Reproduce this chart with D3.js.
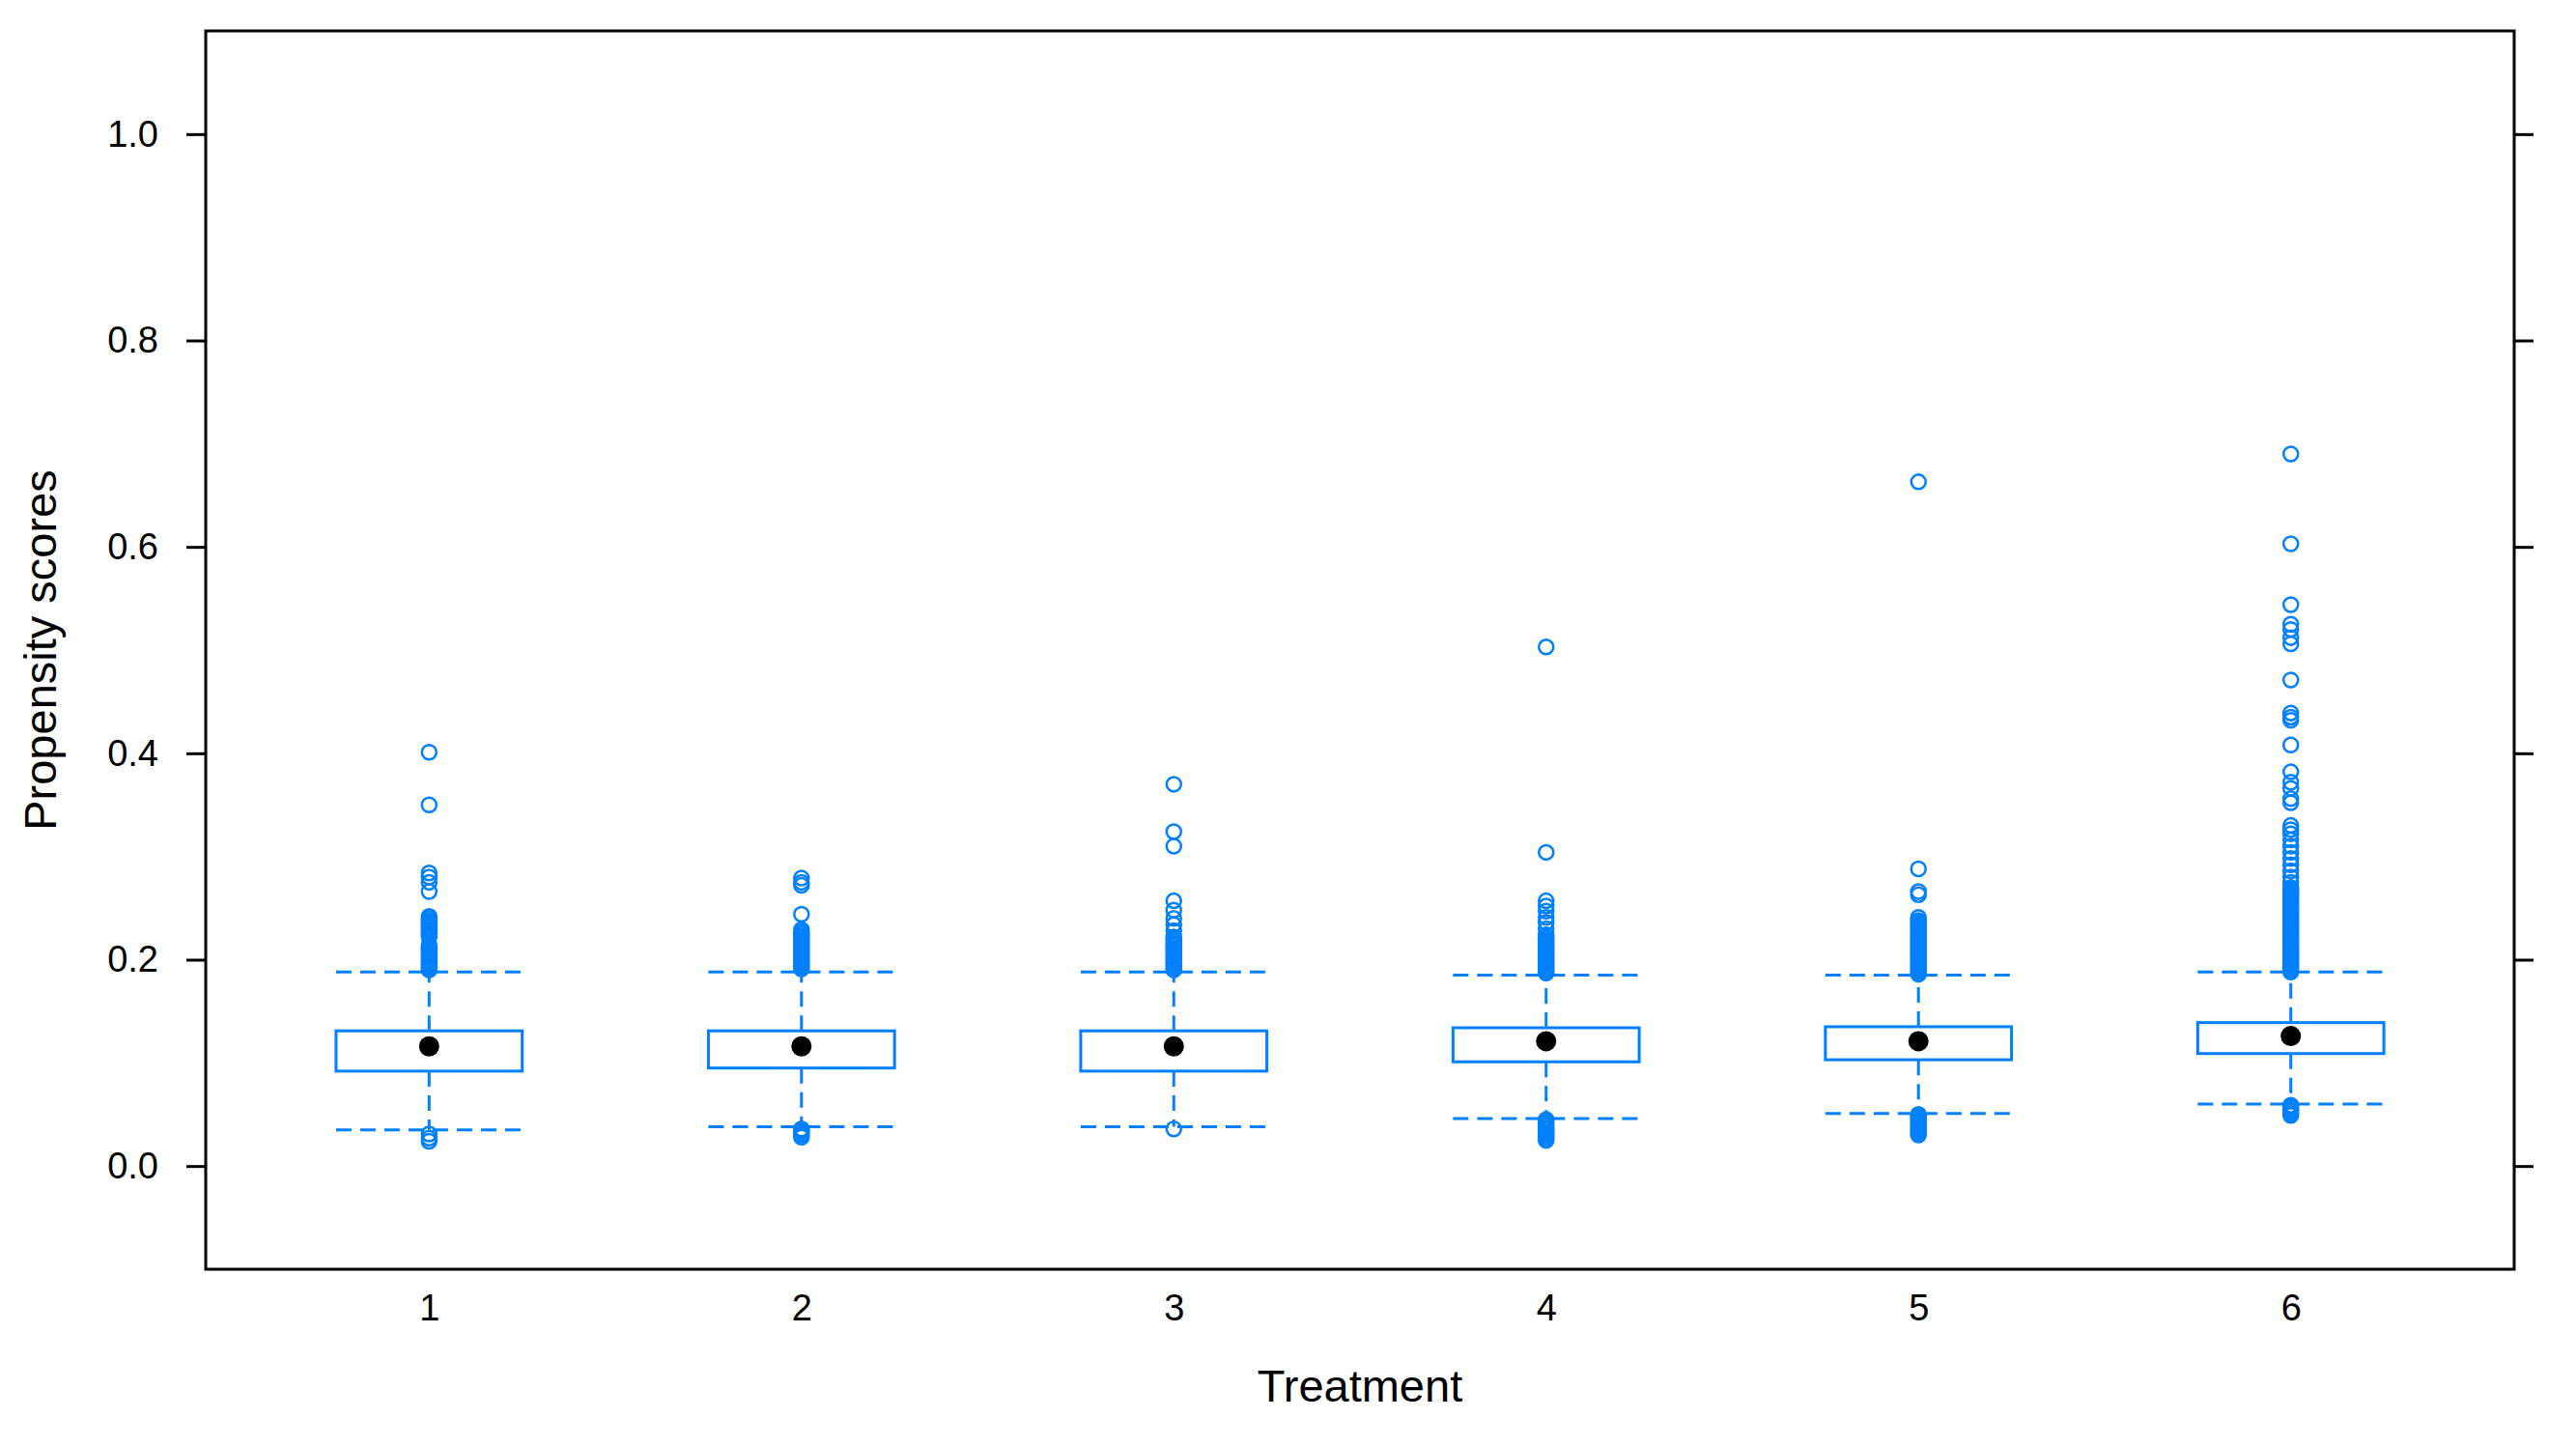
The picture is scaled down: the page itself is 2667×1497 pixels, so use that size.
<!DOCTYPE html>
<html>
<head>
<meta charset="utf-8">
<script src="https://cdn.jsdelivr.net/npm/d3@7"></script>
<style>
  body { margin: 0; background: #fff; }
  text { font-family: "Liberation Sans", Arial, sans-serif; fill: #000; }
</style>
</head>
<body>
<div class="container"></div>
<script>
const treatments = ["1", "2", "3", "4", "5", "6"]
const yTicks = [0.0, 0.2, 0.4, 0.6, 0.8, 1.0]

const lowerWhisker = [0.035, 0.038, 0.038, 0.046, 0.051, 0.060]
const q1 = [0.092, 0.095, 0.092, 0.101, 0.103, 0.109]
const median = [0.116, 0.116, 0.116, 0.121, 0.121, 0.126]
const q3 = [0.131, 0.131, 0.131, 0.134, 0.135, 0.139]
const upperWhisker = [0.188, 0.188, 0.188, 0.185, 0.185, 0.188]

const outliers1 = [0.401, 0.350, 0.284, 0.280, 0.275, 0.266,
  0.242, 0.240, 0.238, 0.236, 0.234, 0.232, 0.230, 0.228, 0.226, 0.224, 0.222,
  0.214, 0.212, 0.210, 0.208, 0.206, 0.204, 0.202, 0.200, 0.198, 0.196, 0.194, 0.192, 0.190,
  0.031, 0.027, 0.024]
const outliers2 = [0.279, 0.275, 0.272, 0.244,
  0.229, 0.227, 0.225, 0.223, 0.221, 0.219, 0.217, 0.215, 0.213, 0.211, 0.209, 0.207, 0.205,
  0.203, 0.201, 0.199, 0.197, 0.195, 0.193, 0.191,
  0.036, 0.034, 0.032, 0.030, 0.028]
const outliers3 = [0.370, 0.324, 0.310, 0.257, 0.248, 0.240, 0.234, 0.228,
  0.222, 0.220, 0.218, 0.216, 0.214, 0.212, 0.210, 0.208, 0.206, 0.204, 0.202, 0.200,
  0.198, 0.196, 0.194, 0.192, 0.190,
  0.036]
const outliers4 = [0.503, 0.304, 0.257, 0.252, 0.247, 0.241, 0.236, 0.230, 0.224,
  0.221, 0.219, 0.217, 0.215, 0.213, 0.211, 0.209, 0.207, 0.205, 0.203, 0.201, 0.199,
  0.197, 0.195, 0.193, 0.191, 0.189, 0.187,
  0.045, 0.043, 0.041, 0.039, 0.037, 0.035, 0.033, 0.031, 0.029, 0.027, 0.025]
const outliers5 = [0.663, 0.288, 0.266, 0.263, 0.241, 0.238,
  0.236, 0.234, 0.232, 0.230, 0.228, 0.226, 0.224, 0.222, 0.220, 0.218, 0.216, 0.214,
  0.212, 0.210, 0.208, 0.206, 0.204, 0.202, 0.200, 0.198, 0.196, 0.194, 0.192, 0.190, 0.188, 0.186,
  0.050, 0.048, 0.046, 0.044, 0.042, 0.040, 0.038, 0.036, 0.034, 0.032, 0.030]
const outliers6 = [0.690, 0.603, 0.544, 0.525, 0.520, 0.512, 0.506, 0.471, 0.439, 0.435, 0.432, 0.408,
  0.382, 0.372, 0.366, 0.356, 0.352, 0.330, 0.326, 0.322, 0.316, 0.310, 0.304, 0.298, 0.292,
  0.286, 0.280, 0.275, 0.270,
  0.268, 0.266, 0.264, 0.262, 0.260, 0.258, 0.256, 0.254, 0.252, 0.250, 0.248, 0.246, 0.244,
  0.242, 0.240, 0.238, 0.236, 0.234, 0.232, 0.230, 0.228, 0.226, 0.224, 0.222, 0.220, 0.218,
  0.216, 0.214, 0.212, 0.210, 0.208, 0.206, 0.204, 0.202, 0.200, 0.198, 0.196, 0.194, 0.192,
  0.190, 0.188,
  0.059, 0.057, 0.055, 0.053, 0.051, 0.049]
const outliers = [outliers1, outliers2, outliers3, outliers4, outliers5, outliers6]

const width = 2667
const height = 1497
const frameLeft = 213, frameRight = 2603, frameTop = 32, frameBottom = 1314
const blue = "#0080ff"

const boxes = treatments.map((t, i) => ({
  t, pos: i + 1,
  lo: lowerWhisker[i], q1: q1[i], med: median[i], q3: q3[i], hi: upperWhisker[i]
}))
const points = outliers.flatMap((arr, i) => arr.map(v => ({ pos: i + 1, v })))

const xScale = d3.scaleLinear().domain([0.4, 6.6]).range([frameLeft, frameRight])
const yScale = d3.scaleLinear().domain([-0.1, 1.1]).range([frameBottom, frameTop])
const halfBox = xScale(1.25) - xScale(1)

const svg = d3.select(".container")
  .append("svg")
    .attr("width", width)
    .attr("height", height)

// axes: labels on left, ticks only on right, labels below
const yAxis = d3.axisLeft(yScale).tickValues(yTicks).tickFormat(d3.format(".1f")).tickSize(20).tickPadding(29)
svg.append("g")
  .attr("transform", `translate(${frameLeft}, 0)`)
  .call(yAxis)
  .call(g => g.select(".domain").remove())
  .call(g => g.selectAll("line").attr("stroke", "#000").attr("stroke-width", 3))
  .call(g => g.selectAll("text").style("font-size", "38px").attr("fill", "#000"))

svg.append("g")
  .attr("transform", `translate(${frameRight}, 0)`)
  .call(d3.axisRight(yScale).tickValues(yTicks).tickFormat("").tickSize(20))
  .call(g => g.select(".domain").remove())
  .call(g => g.selectAll("line").attr("stroke", "#000").attr("stroke-width", 3))

svg.append("g")
  .attr("transform", `translate(0, ${frameBottom})`)
  .call(d3.axisBottom(xScale).tickValues(boxes.map(d => d.pos)).tickFormat((d, i) => treatments[i]).tickSize(0).tickPadding(26))
  .call(g => g.select(".domain").remove())
  .call(g => g.selectAll("text").style("font-size", "38px").attr("fill", "#000"))

const plot = svg.append("g")

// whiskers
plot.selectAll(".whisker")
  .data(boxes.flatMap(d => [[d, d.q3, d.hi], [d, d.q1, d.lo]]))
  .enter()
  .append("line")
  .attr("x1", d => xScale(d[0].pos))
  .attr("x2", d => xScale(d[0].pos))
  .attr("y1", d => yScale(d[1]))
  .attr("y2", d => yScale(d[2]))
  .attr("stroke", blue)
  .attr("stroke-width", 3)
  .attr("stroke-dasharray", "16,9")

plot.selectAll(".cap")
  .data(boxes.flatMap(d => [[d, d.hi], [d, d.lo]]))
  .enter()
  .append("line")
  .attr("x1", d => xScale(d[0].pos) - halfBox)
  .attr("x2", d => xScale(d[0].pos) + halfBox)
  .attr("y1", d => yScale(d[1]))
  .attr("y2", d => yScale(d[1]))
  .attr("stroke", blue)
  .attr("stroke-width", 3)
  .attr("stroke-dasharray", "16,9")

plot.selectAll(".box")
  .data(boxes)
  .enter()
  .append("rect")
  .attr("x", d => xScale(d.pos) - halfBox)
  .attr("width", halfBox * 2)
  .attr("y", d => yScale(d.q3))
  .attr("height", d => yScale(d.q1) - yScale(d.q3))
  .attr("fill", "none")
  .attr("stroke", blue)
  .attr("stroke-width", 3)

plot.selectAll(".outlier")
  .data(points)
  .enter()
  .append("circle")
  .attr("cx", d => xScale(d.pos))
  .attr("cy", d => yScale(d.v))
  .attr("r", 7.5)
  .attr("fill", "none")
  .attr("stroke", blue)
  .attr("stroke-width", 2.5)

plot.selectAll(".median")
  .data(boxes)
  .enter()
  .append("circle")
  .attr("cx", d => xScale(d.pos))
  .attr("cy", d => yScale(d.med))
  .attr("r", 10.5)
  .attr("fill", "#000")

// frame
svg.append("rect")
  .attr("x", frameLeft)
  .attr("y", frameTop)
  .attr("width", frameRight - frameLeft)
  .attr("height", frameBottom - frameTop)
  .attr("fill", "none")
  .attr("stroke", "#000")
  .attr("stroke-width", 3)

svg.append("text")
  .attr("x", (frameLeft + frameRight) / 2)
  .attr("y", 1451)
  .attr("text-anchor", "middle")
  .style("font-size", "47px")
  .text("Treatment")

svg.append("text")
  .attr("transform", `translate(58, ${(frameTop + frameBottom) / 2}) rotate(-90)`)
  .attr("text-anchor", "middle")
  .style("font-size", "47px")
  .text("Propensity scores")
</script>
</body>
</html>
